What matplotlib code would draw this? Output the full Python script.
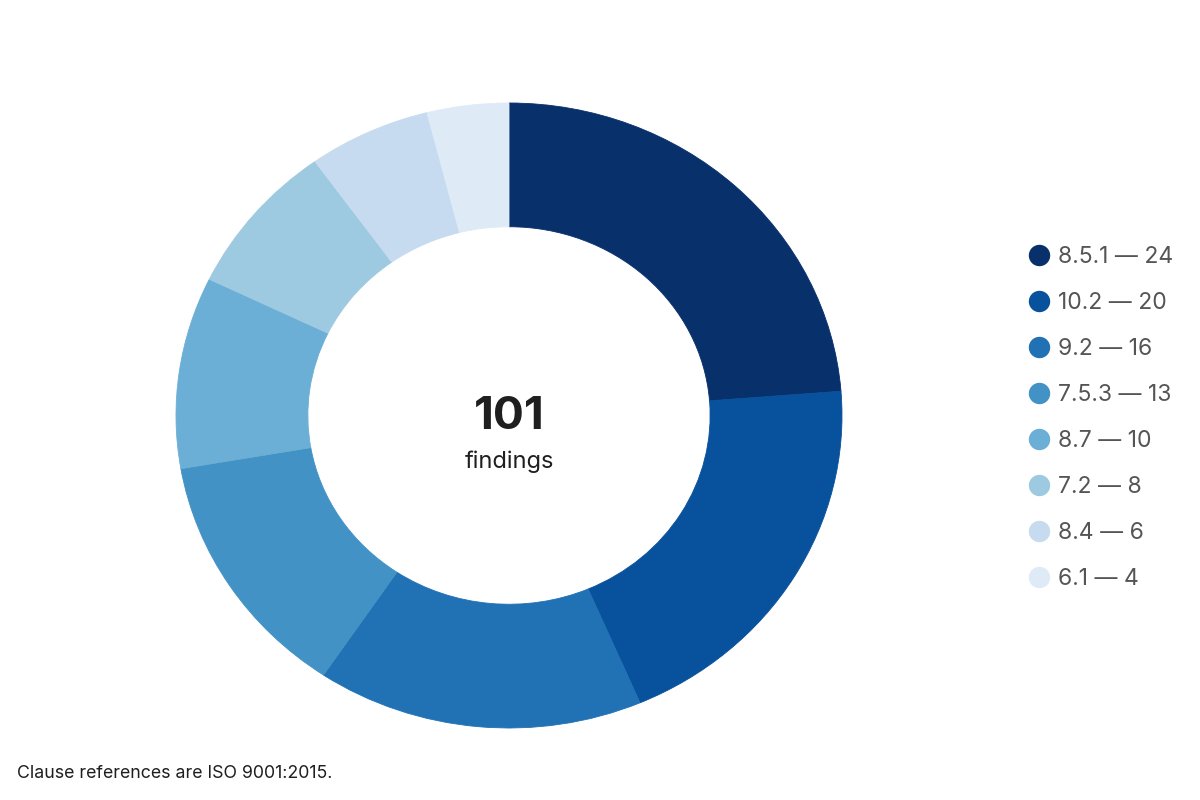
import matplotlib
matplotlib.use("Agg")
import matplotlib.pyplot as plt
from matplotlib.lines import Line2D

plt.rcParams['font.family'] = ['Inter', 'DejaVu Sans']

clauses = ['8.5.1', '10.2', '9.2', '7.5.3', '8.7', '7.2', '8.4', '6.1']
counts = [24, 20, 16, 13, 10, 8, 6, 4]
colors = ['#08306b', '#08519c', '#2171b5', '#4292c6',
          '#6baed6', '#9ecae1', '#c6dbef', '#deebf7']
total = sum(counts)
center_label = 'findings'
footnote = 'Clause references are ISO 9001:2015.'

fig = plt.figure(figsize=(12, 8), dpi=100)

# donut is slightly wider than tall in the reference
ax = fig.add_axes([176 / 1200, 72 / 800, 666 / 1200, 625 / 800])
wedges, _ = ax.pie(counts, colors=colors, startangle=90, counterclock=False,
                   radius=1.0, wedgeprops=dict(width=0.396, linewidth=0.6),
                   )
for w, c in zip(wedges, colors):
    w.set_edgecolor(c)
ax.set_aspect('auto')
ax.set_xlim(-1, 1)
ax.set_ylim(-1, 1)
ax.axis('off')

ax.text(0, -0.044, str(total), ha='center', va='baseline',
        fontsize=33, fontweight='bold', color='#1f1f1f')
ax.text(0, -0.168, center_label, ha='center', va='baseline',
        fontsize=17, color='#1f1f1f')

handles = [Line2D([], [], marker='o', ls='', markersize=14.4,
                  markerfacecolor=c, markeredgecolor=c) for c in colors]
labels = [f'{k} \u2014 {v}' for k, v in zip(clauses, counts)]
leg = fig.legend(handles, labels, loc='upper left',
                 bbox_to_anchor=(1029 / 1200, 1 - 246 / 800),
                 frameon=False, fontsize=16.5, borderpad=0, borderaxespad=0,
                 handlelength=0.9, handletextpad=0.37, labelspacing=1.045)
for t in leg.get_texts():
    t.set_color('#555555')

fig.text(17 / 1200, 1 - 778 / 800, footnote, ha='left', va='baseline',
         fontsize=12.8, color='#1f1f1f')

fig.savefig('out.png', dpi=100)
